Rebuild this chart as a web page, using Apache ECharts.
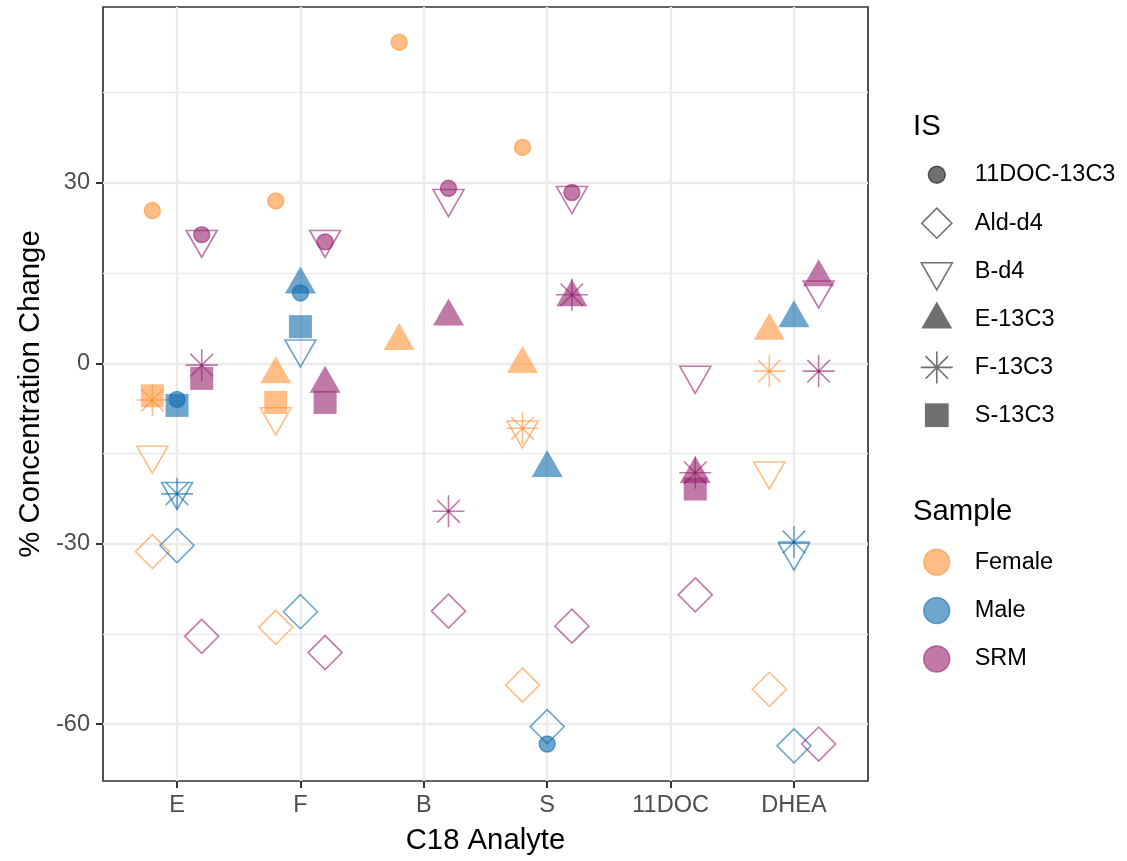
<!DOCTYPE html>
<html>
<head>
<meta charset="utf-8">
<script src="https://cdn.jsdelivr.net/npm/echarts@6/dist/echarts.min.js"></script>
<style>
  html, body { margin: 0; padding: 0; background: #ffffff; }
  #chart { width: 1127px; height: 861px; }
</style>
</head>
<body>
<div id="chart"></div>
<script>
// Analytes on the x axis, samples dodged within each analyte
const analytes = ['E', 'F', 'B', 'S', '11DOC', 'DHEA'];
const samples = ['Female', 'Male', 'SRM'];
const isNames = ['11DOC-13C3', 'Ald-d4', 'B-d4', 'E-13C3', 'F-13C3', 'S-13C3'];
const yTicks = [-60, -30, 0, 30];
const yMinorTicks = [-45, -15, 15, 45];

// % concentration change; rows = Female, Male, SRM;
// columns = E, F, B, S, 11DOC, DHEA; null = not reported
const doc11_13C3 = [
  [25.4, 27.0, 53.4, 35.9, null, null],
  [-6.0, 11.7, null, -63.3, null, null],
  [21.4, 20.2, 29.1, 28.4, null, null]
];
const ald_d4 = [
  [-31.3, -43.9, null, -53.5, null, -54.2],
  [-30.3, -41.3, null, -60.4, null, -63.6],
  [-45.4, -48.1, -41.2, -43.7, -38.5, -63.3]
];
const b_d4 = [
  [-15.3, -8.9, null, -11.1, null, -17.9],
  [-21.3, 2.4, null, null, null, -31.4],
  [20.6, 20.6, 27.4, 27.9, -2.0, 12.2]
];
const e_13C3 = [
  [null, -1.8, 3.7, -0.1, null, 5.4],
  [null, 13.1, null, -17.4, null, 7.5],
  [null, -3.4, 7.8, 11.0, -18.4, 14.3]
];
const f_13C3 = [
  [-6.1, null, null, -10.8, null, -1.3],
  [-21.7, null, null, null, null, -29.7],
  [-0.3, null, -24.6, 11.4, -18.2, -1.3]
];
const s_13C3 = [
  [-5.4, -6.5, null, null, null, null],
  [-7.0, 6.1, null, null, null, null],
  [-2.5, -6.5, null, null, -20.9, null]
];

const FONT = '"Liberation Sans", Arial, Helvetica, sans-serif';
const sampleColors = ['rgba(253,147,53,0.6)', 'rgba(13,107,173,0.6)', 'rgba(150,33,110,0.6)'];
const sampleCores = ['rgba(253,147,53,0.95)', 'rgba(13,107,173,0.95)', 'rgba(150,33,110,0.95)'];
const keyGray = 'rgba(0,0,0,0.56)';
const dodge = [-0.2, 0, 0.2];

const ASTERISK = 'path://M10 0 L10 20 M0 10 L20 10 M2.93 2.93 L17.07 17.07 M2.93 17.07 L17.07 2.93';

// Legend key glyphs drawn in a 100x100 box (the trailing moves pin the box)
const PIN = ' M0 0 M100 100';
const keyIcons = {
  '11DOC-13C3': 'path://M26.4 50 A23.6 23.6 0 1 1 73.6 50 A23.6 23.6 0 1 1 26.4 50 Z' + PIN,
  'Ald-d4': 'path://M50 8.3 L91.7 50 L50 91.7 L8.3 50 Z' + PIN,
  'B-d4': 'path://M7 25 L93 25 L50 100 Z' + PIN,
  'E-13C3': 'path://M50 0 L93 75 L7 75 Z' + PIN,
  'F-13C3': 'path://M50 5.6 L50 94.4 M5.6 50 L94.4 50 M18.6 18.6 L81.4 81.4 M18.6 81.4 L81.4 18.6' + PIN,
  'S-13C3': 'path://M17 17 L83 17 L83 83 L17 83 Z' + PIN
};
const sampleIcon = 'path://M13.9 50 A36.1 36.1 0 1 1 86.1 50 A36.1 36.1 0 1 1 13.9 50 Z' + PIN;

function pointStyle(kind, c) {
  if (kind === 'dot') return { color: c, borderColor: c, borderWidth: 1.4 };
  if (kind === 'solid') return { color: c, borderWidth: 0 };
  return { color: 'transparent', borderColor: c, borderWidth: 1.6 };
}

const isDefs = [
  { name: '11DOC-13C3', values: doc11_13C3, kind: 'dot', symbol: 'circle', size: 16 },
  { name: 'Ald-d4', values: ald_d4, kind: 'open', symbol: 'diamond', size: 34 },
  { name: 'B-d4', values: b_d4, kind: 'open', symbol: 'triangle', size: [31, 27], rotate: 180, offset: [0, 4.5] },
  { name: 'E-13C3', values: e_13C3, kind: 'solid', symbol: 'triangle', size: [31, 27], offset: [0, -4.5] },
  { name: 'F-13C3', values: f_13C3, kind: 'open', symbol: ASTERISK, size: 32 },
  { name: 'S-13C3', values: s_13C3, kind: 'solid', symbol: 'rect', size: 23 }
];

function pointsOf(values, styleFor) {
  const data = [];
  values.forEach((row, s) => {
    row.forEach((v, a) => {
      if (v === null) return;
      data.push({ value: [a + 1 + dodge[s], v], itemStyle: styleFor(s) });
    });
  });
  return data;
}

const series = isDefs.map(def => ({
  type: 'scatter',
  name: def.name,
  symbol: def.symbol,
  symbolSize: def.size,
  symbolRotate: def.rotate || 0,
  symbolOffset: def.offset || [0, 0],
  itemStyle: Object.assign({ opacity: 1 }, pointStyle(def.kind, keyGray)),
  emphasis: { disabled: true },
  silent: true,
  data: pointsOf(def.values, s => pointStyle(def.kind, sampleColors[s]))
}));

// Where the eight asterisk spokes cross, the translucent strokes pile up into a dark core
series.push({
  type: 'scatter',
  name: 'F-13C3 core',
  symbol: 'circle',
  symbolSize: 3,
  itemStyle: { opacity: 1 },
  emphasis: { disabled: true },
  silent: true,
  data: pointsOf(f_13C3, s => ({ color: sampleCores[s], borderWidth: 0 }))
});

// Colour-only series that feed the Sample legend
samples.forEach((name, i) => {
  series.push({
    type: 'scatter',
    name: name,
    symbol: 'circle',
    itemStyle: { opacity: 1, color: sampleColors[i], borderColor: sampleColors[i], borderWidth: 1.4 },
    silent: true,
    data: []
  });
});

const legendText = { fontFamily: FONT, fontSize: 23.5, color: '#000000', padding: [0, 0, 0, 15] };
const titleText = { fontFamily: FONT, fontSize: 29.3, fontWeight: 'normal', color: '#000000' };

const option = {
  backgroundColor: '#ffffff',
  animation: false,
  title: [
    { text: 'IS', left: 913, top: 112, padding: 0, textStyle: titleText },
    { text: 'Sample', left: 913, top: 497, padding: 0, textStyle: titleText }
  ],
  legend: [
    {
      orient: 'vertical', left: 918, top: 156, padding: 0,
      itemWidth: 36, itemHeight: 36, itemGap: 11,
      selectedMode: false,
      textStyle: legendText,
      data: isDefs.map(def => ({
        name: def.name,
        icon: keyIcons[def.name],
        itemStyle: pointStyle(def.kind, keyGray)
      }))
    },
    {
      orient: 'vertical', left: 918, top: 543.5, padding: 0,
      itemWidth: 36, itemHeight: 36, itemGap: 11,
      selectedMode: false,
      textStyle: legendText,
      data: samples.map((name, i) => ({
        name: name,
        icon: sampleIcon,
        itemStyle: { color: sampleColors[i], borderColor: sampleColors[i], borderWidth: 1.4 }
      }))
    }
  ],
  grid: {
    left: 103, top: 7, right: 259, bottom: 80,
    show: true, borderColor: '#333333', borderWidth: 1.7, backgroundColor: 'transparent'
  },
  xAxis: {
    type: 'value', min: 0.4, max: 6.6,
    axisLine: { show: false, onZero: false },
    axisTick: { show: true, length: 7, lineStyle: { color: '#333333', width: 2 }, customValues: [1, 2, 3, 4, 5, 6] },
    axisLabel: {
      customValues: [1, 2, 3, 4, 5, 6],
      formatter: v => analytes[Math.round(v) - 1],
      margin: 13, fontFamily: FONT, fontSize: 23.5, color: '#4D4D4D'
    },
    splitLine: { show: true, lineStyle: { color: '#EBEBEB', width: 2.4 } },
    name: 'C18 Analyte', nameLocation: 'middle', nameGap: 45,
    nameTextStyle: { fontFamily: FONT, fontSize: 29.3, color: '#000000' }
  },
  yAxis: [
    {
      type: 'value', min: -69.45, max: 59.25,
      axisLine: { show: false, onZero: false },
      axisTick: { show: true, length: 7, lineStyle: { color: '#333333', width: 2 }, customValues: yTicks },
      axisLabel: { customValues: yTicks, margin: 13, fontFamily: FONT, fontSize: 23.5, color: '#4D4D4D' },
      splitLine: { show: true, lineStyle: { color: '#EBEBEB', width: 2.4 } },
      name: '% Concentration Change', nameLocation: 'middle', nameGap: 54.5,
      nameTextStyle: { fontFamily: FONT, fontSize: 29.3, color: '#000000' }
    },
    {
      type: 'value', min: -69.45, max: 59.25, position: 'left',
      axisLine: { show: false, onZero: false },
      axisLabel: { show: false },
      axisTick: { show: false, customValues: yMinorTicks },
      splitLine: { show: true, lineStyle: { color: '#EBEBEB', width: 1.3 } }
    }
  ],
  series: series
};

const chart = echarts.init(document.getElementById('chart'), null, { renderer: 'canvas' });
chart.setOption(option);
</script>
</body>
</html>
